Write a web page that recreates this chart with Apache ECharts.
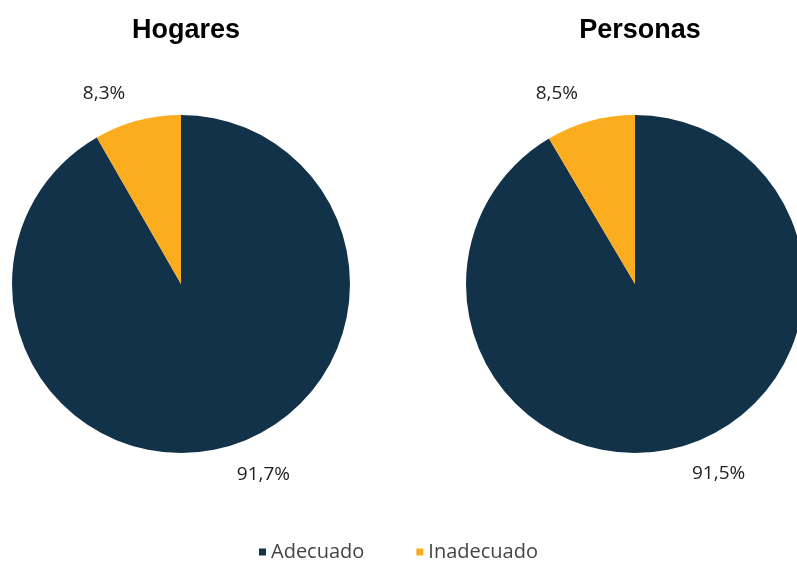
<!DOCTYPE html>
<html>
<head>
<meta charset="utf-8">
<script src="https://cdn.jsdelivr.net/npm/echarts@6/dist/echarts.min.js"></script>
<style>
  html, body { margin: 0; padding: 0; background: #fff; }
  #chart { width: 797px; height: 563px; }
</style>
</head>
<body>
<div id="chart"></div>
<script>
var categories = ['Adecuado', 'Inadecuado'];
var titles = ['Hogares', 'Personas'];
var hogares = [91.7, 8.3];
var personas = [91.5, 8.5];
var colors = ['#12324a', '#fcac1f'];

function toData(vals) {
  return vals.map(function (v, i) {
    return { name: categories[i], value: v };
  });
}

function pieSeries(vals, cx) {
  return {
    type: 'pie',
    center: [cx, 284],
    radius: 169,
    startAngle: 90,
    clockwise: true,
    silent: true,
    data: toData(vals),
    label: {
      show: true,
      position: 'outside',
      formatter: function (p) { return p.value.toFixed(1).replace('.', ',') + '%'; },
      fontFamily: 'Open Sans',
      fontSize: 19,
      color: '#222'
    },
    labelLine: { show: false, length: 28, length2: 0 }
  };
}

var myChart = echarts.init(document.getElementById('chart'));
var option = {
  color: colors,
  animation: false,
  title: [
    { text: titles[0], left: 181, top: 12, textAlign: 'center',
      textStyle: { fontFamily: 'Liberation Sans', fontWeight: 'bold', fontSize: 27, color: '#000' } },
    { text: titles[1], left: 635, top: 12, textAlign: 'center',
      textStyle: { fontFamily: 'Liberation Sans', fontWeight: 'bold', fontSize: 27, color: '#000' } }
  ],
  legend: {
    data: categories,
    bottom: -4,
    left: 'center',
    icon: 'rect',
    itemWidth: 7,
    itemHeight: 7,
    itemGap: 52,
    textStyle: { fontFamily: 'Open Sans', fontSize: 20, color: '#444' }
  },
  series: [pieSeries(hogares, 181), pieSeries(personas, 635)]
};
myChart.setOption(option);
</script>
</body>
</html>
